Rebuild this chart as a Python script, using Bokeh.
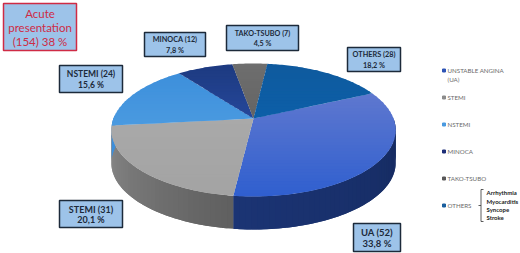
import math
from bokeh.plotting import figure
from bokeh.models import Range1d
from bokeh.core.properties import value
from bokeh.embed import file_html
from bokeh.resources import INLINE

# ---- data
legend_names = ["UNSTABLE ANGINA (UA)", "STEMI", "NSTEMI", "MINOCA", "TAKO-TSUBO", "OTHERS"]
short_names = ["UA", "STEMI", "NSTEMI", "MINOCA", "TAKO-TSUBO", "OTHERS"]
counts = [52, 31, 24, 12, 7, 28]
percent_labels = ["33,8 %", "20,1 %", "15,6 %", "7,8 %", "4,5 %", "18,2 %"]
drawn_shares = [33.8, 21.4, 16.4, 7.5, 4.7, 16.3]   # slice sizes as seen in the picture
others_detail = ["Arrhythmia", "Myocarditis", "Syncope", "Stroke"]
title_lines = ["Acute", "presentation", "(154) 38 %"]

# ---- styles
top_colors = [("#5f78cf", "#2f5fcf"), ("#a9a9a9", "#a3a3a3"), ("#3d8fdb", "#4a9ae0"),
              ("#1d3a80", "#25479a"), ("#6e6e6e", "#646464"), ("#0f5a9e", "#0c5fa8")]
wall_colors = [("#14285a", "#1b3474"), ("#5f5f5f", "#8a8a8a"), ("#3d8fdb", "#3d8fdb"),
               ("#1d3a80", "#1d3a80"), ("#666666", "#666666"), ("#0f5a9e", "#0f5a9e")]
legend_colors = ["#2f55b5", "#8c8c8c", "#4a9ae0", "#1f2f78", "#595959", "#1a5f9e"]
label_sizes = ["9.5px", "9px", "8.5px", "7.3px", "7.2px", "7.3px"]
BOX_FILL = "#9dc3e9"
BOX_LINE = "#1c2a3a"
RED = "#cf2b45"
LABEL_FONT = "Lato"

# ---- layout (in page pixels of the reference)
CX, CY, RX, RY, TILT, DEPTH, START = 253.0, 118.0, 140.0, 64.5, -0.173, 33.0, -24.7
label_boxes = [(353, 223, 400, 251), (59, 200, 122, 227), (59, 65, 122, 92),
               (144, 32, 205, 56), (226, 25, 298, 50), (347, 47, 400, 71)]
title_box = (3, 3, 76, 50)
title_y = [12.5, 27, 41]
legend_y = [70, 97, 124, 151, 178, 205]


def project(deg):
    t = math.radians(deg)
    u, v = math.cos(t), math.sin(t)
    d = 1 + TILT * v
    return CX + RX * u / d, CY + RY * v / d


def mix(a, b, f):
    ca = [int(a[i:i + 2], 16) for i in (1, 3, 5)]
    cb = [int(b[i:i + 2], 16) for i in (1, 3, 5)]
    return "#%02x%02x%02x" % tuple(round(x + (y - x) * f) for x, y in zip(ca, cb))


def clip_band(poly, lo, hi):
    def clip(points, keep, cross):
        out = []
        for i, p in enumerate(points):
            q = points[(i + 1) % len(points)]
            if keep(p):
                out.append(p)
            if keep(p) != keep(q):
                f = (cross - p[1]) / (q[1] - p[1])
                out.append((p[0] + (q[0] - p[0]) * f, cross))
        return out
    res = clip(poly, lambda p: p[1] >= lo, lo)
    if res:
        res = clip(res, lambda p: p[1] <= hi, hi)
    return res


p = figure(width=520, height=253, output_backend="svg", toolbar_location=None,
           x_range=Range1d(0, 520), y_range=Range1d(253, 0), min_border=0,
           outline_line_color=None, background_fill_color="white", border_fill_color="white")
p.xaxis.visible = False
p.yaxis.visible = False
p.grid.visible = False

# slice angles
edges = [START]
for s in drawn_shares:
    edges.append(edges[-1] + s / sum(drawn_shares) * 360.0)

# side wall: each strip overlaps the next one, so no seams show
wx, wy, wc = [], [], []
for i in range(len(counts)):
    a0, a1 = edges[i], edges[i + 1]
    steps = max(2, int(abs(a1 - a0) / 2))
    for k in range(steps):
        t0 = a0 + (a1 - a0) * k / steps
        t1 = a0 + (a1 - a0) * (k + 1) / steps
        if t1 < 0 or t0 > 180:
            continue
        tail = t1 + (a1 - a0) / steps if k < steps - 1 else t1
        pts = [project(t0 + (tail - t0) * j / 3) for j in range(4)]
        wx.append([q[0] for q in pts] + [q[0] for q in reversed(pts)])
        wy.append([q[1] for q in pts] + [q[1] + DEPTH for q in reversed(pts)])
        wc.append(mix(*wall_colors[i], (k + .5) / steps))
p.patches(wx, wy, fill_color=wc, line_color=None)

# top face with a vertical shade
fx, fy, fc = [], [], []
for i in range(len(counts)):
    a0, a1 = edges[i], edges[i + 1]
    n = max(3, int(abs(a1 - a0)))
    poly = [(CX, CY)] + [project(a0 + (a1 - a0) * k / n) for k in range(n + 1)]
    ymin = min(q[1] for q in poly)
    ymax = max(q[1] for q in poly)
    bands = max(1, int((ymax - ymin) / 3))
    for b in range(bands):
        lo = ymin + (ymax - ymin) * b / bands
        hi = ymin + (ymax - ymin) * (b + 1) / bands
        part = clip_band(poly, lo, hi + (1 if b < bands - 1 else 0))
        if len(part) >= 3:
            fx.append([q[0] for q in part])
            fy.append([q[1] for q in part])
            fc.append(mix(*top_colors[i], (b + .5) / bands))
p.patches(fx, fy, fill_color=fc, line_color=None)


def box(b, line, width):
    p.quad(left=[b[0]], right=[b[2]], top=[b[1]], bottom=[b[3]], fill_color=BOX_FILL,
           line_color=line, line_width=width)


def label(x, y, text, size, color, style="normal", align="center", font=LABEL_FONT):
    p.text([x], [y], text=[text], text_font=value(font), text_font_size=size, text_color=color,
           text_font_style=style, text_align=align, text_baseline="middle")


# value labels
for i, b in enumerate(label_boxes):
    box(b, BOX_LINE, 1.5)
    mx = (b[0] + b[2]) / 2
    my = (b[1] + b[3]) / 2
    label(mx, my - 5, f"{short_names[i]} ({counts[i]})", label_sizes[i], "#1c2a3a", "bold")
    label(mx, my + 5.5, percent_labels[i], label_sizes[i], "#1c2a3a", "bold")

# title box
box(title_box, RED, 1.5)
for y, t in zip(title_y, title_lines):
    label((title_box[0] + title_box[2]) / 2, y, t, "11.5px", RED)

# legend
for i, y in enumerate(legend_y):
    p.scatter([443.5], [y], marker="square", size=3, color=legend_colors[i])
    name = legend_names[i]
    if name.endswith("(UA)"):
        label(447, y, name[:-5], "6.2px", "#6a6a6a", align="left")
        label(447, y + 9, "(UA)", "6.2px", "#6a6a6a", align="left")
    else:
        label(447, y, name, "6.2px", "#6a6a6a", align="left")

# bracket beside OTHERS
p.line([483, 480.5, 480.5, 483], [189, 189, 221, 221], line_color="#333333", line_width=0.8)
p.line([478, 480.5], [205, 205], line_color="#333333", line_width=0.8)
for t, y in zip(others_detail, [192, 201, 209, 217]):
    label(486, y, t, "6px", "#222222", "bold", align="left")

open("out.html", "w").write(file_html(p, INLINE))
